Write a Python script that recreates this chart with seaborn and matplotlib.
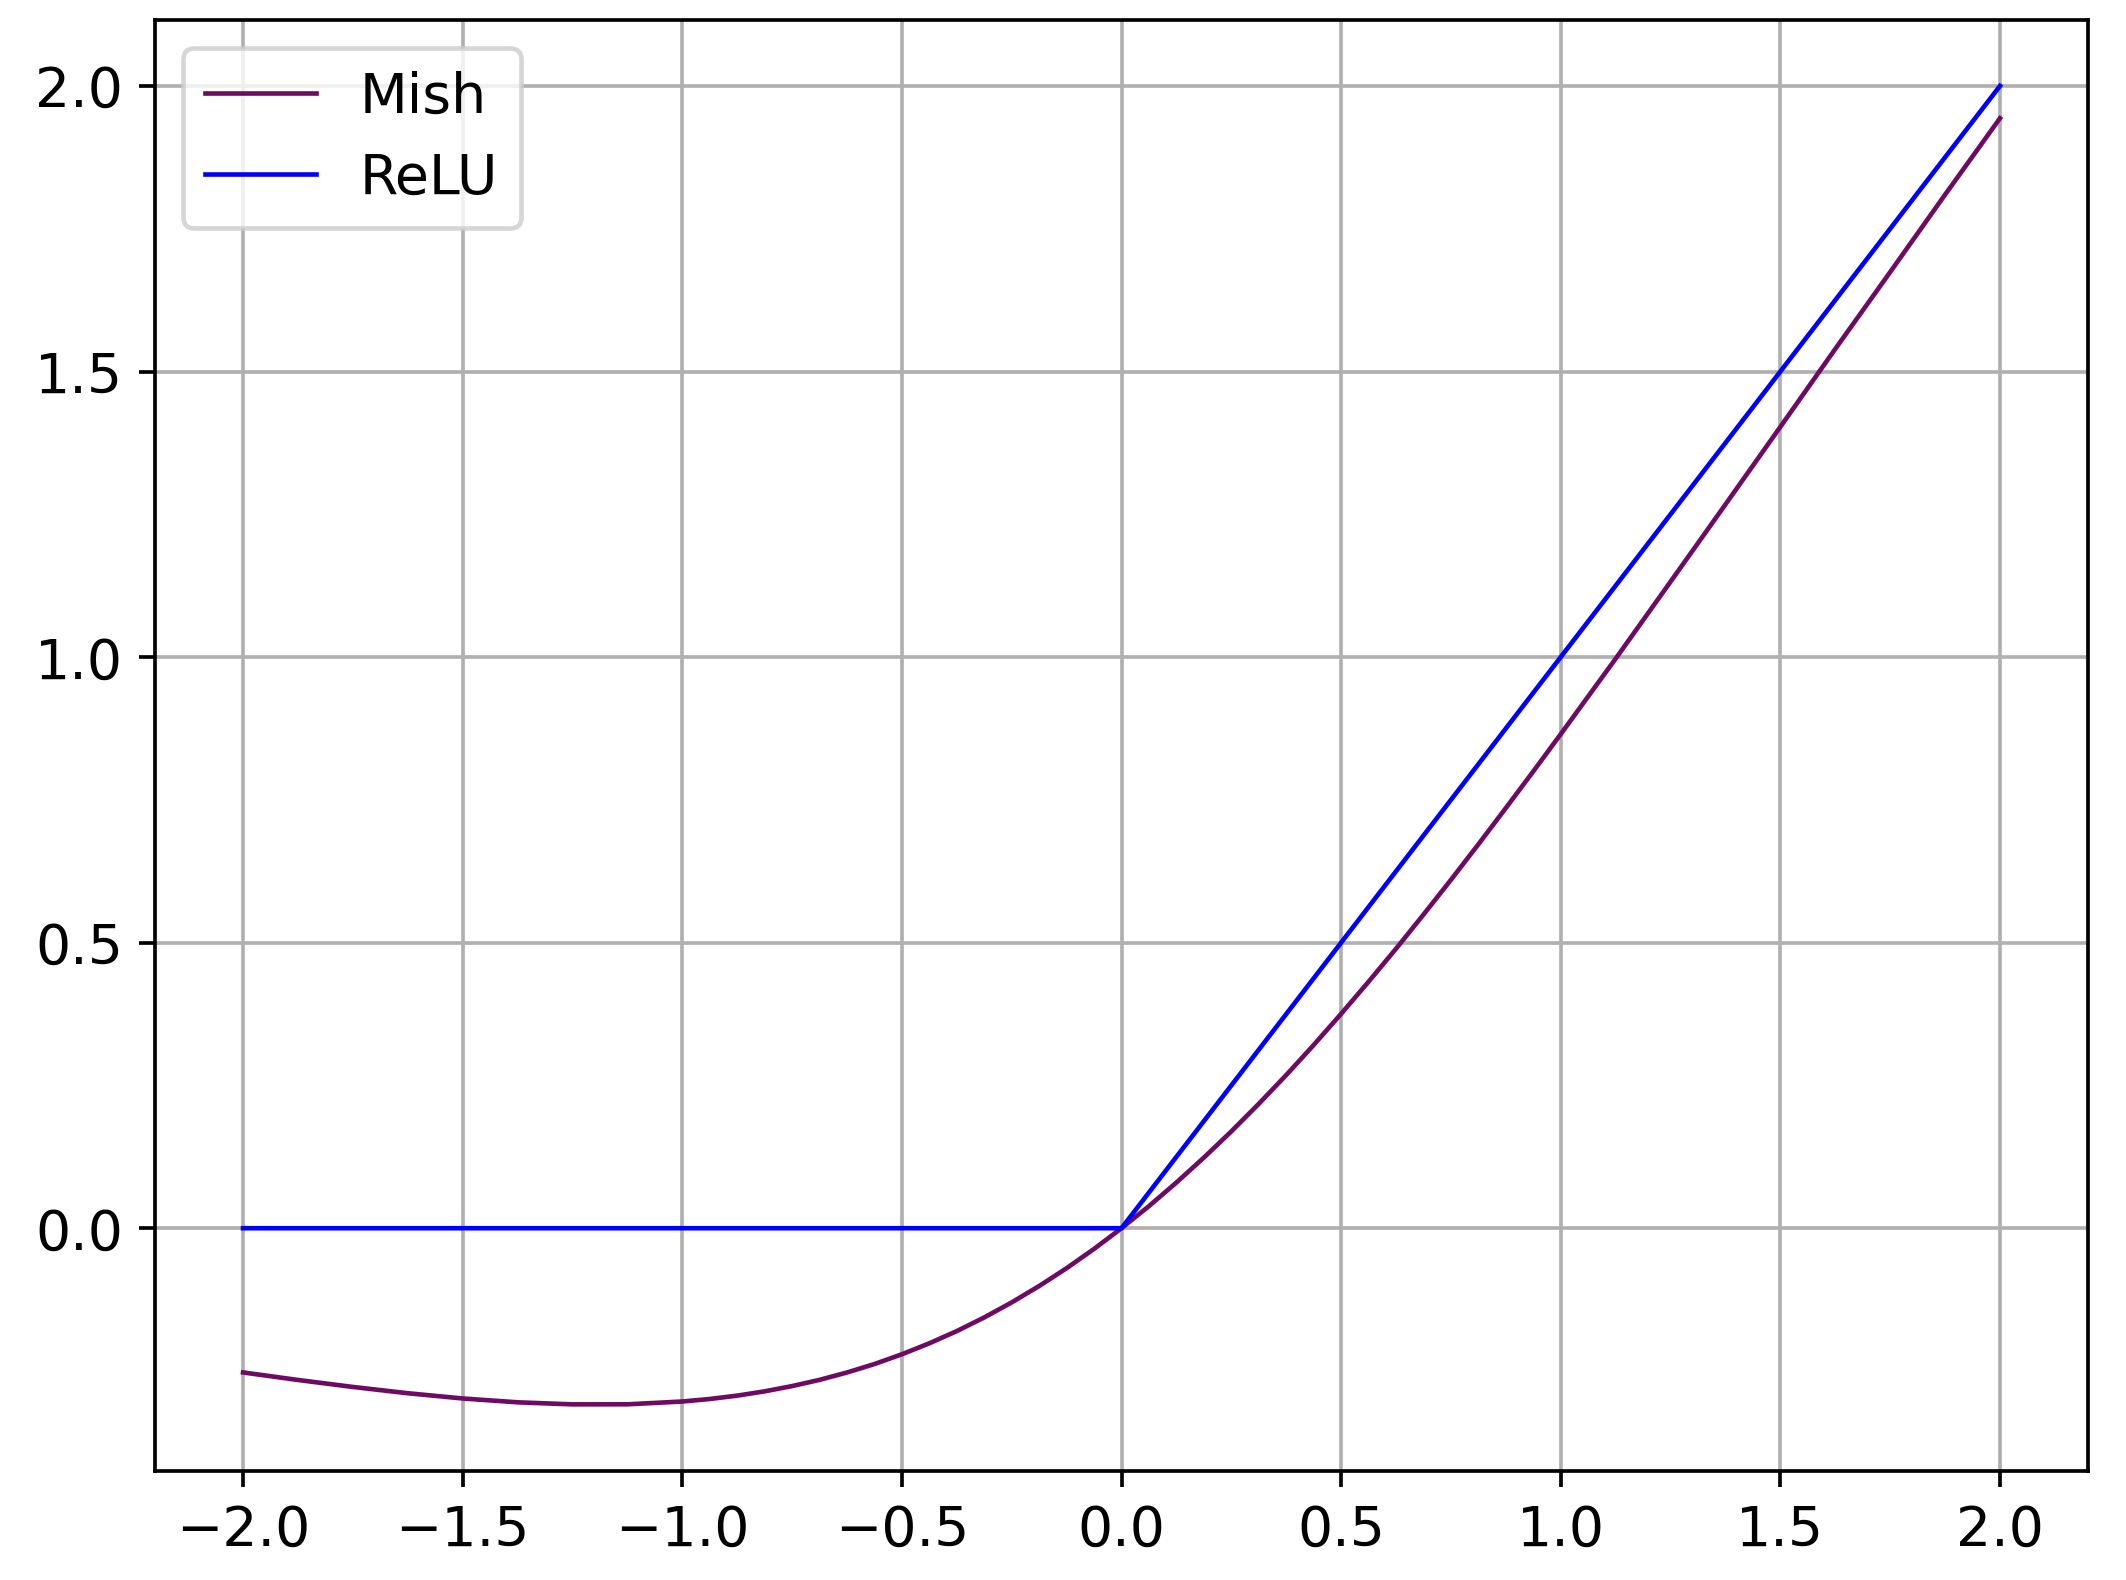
import numpy as np
import pandas as pd
import seaborn as sns
import matplotlib.pyplot as plt

# values
mish_x = [-2.0, -1.875, -1.75, -1.625, -1.5, -1.375, -1.25, -1.125, -1.0,
          -0.9375, -0.875, -0.8125, -0.75, -0.6875, -0.625, -0.5625, -0.5,
          -0.4375, -0.375, -0.3125, -0.25, -0.1875, -0.125, -0.0625, 0.0,
          0.0625, 0.125, 0.1875, 0.25, 0.3125, 0.375, 0.4375, 0.5,
          0.5625, 0.625, 0.6875, 0.75, 0.8125, 0.875, 0.9375, 1.0,
          1.125, 1.25, 1.375, 1.5, 1.625, 1.75, 1.875, 2.0]
mish_y = [-0.2525, -0.2657, -0.2779, -0.2889, -0.2981, -0.3048, -0.3084, -0.3083, -0.3034,
          -0.2990, -0.2931, -0.2856, -0.2764, -0.2655, -0.2526, -0.2378, -0.2207,
          -0.2015, -0.1801, -0.1562, -0.1299, -0.1012, -0.0700, -0.0362, 0.0,
          0.0387, 0.0800, 0.1236, 0.1695, 0.2178, 0.2682, 0.3208, 0.3754,
          0.4316, 0.4894, 0.5491, 0.6100, 0.6722, 0.7357, 0.7999, 0.8651,
          0.9972, 1.1320, 1.2673, 1.4031, 1.5395, 1.6741, 1.8096, 1.9434]
relu_x = [-2.0, 0.0, 2.0]
relu_y = [0.0, 0.0, 2.0]

df = pd.concat([
    pd.DataFrame({"x": mish_x, "y": mish_y, "func": "Mish"}),
    pd.DataFrame({"x": relu_x, "y": relu_y, "func": "ReLU"}),
], ignore_index=True)

plt.rcParams["font.size"] = 12
fig, ax = plt.subplots(figsize=(6.4, 4.757), dpi=332.2)
fig.subplots_adjust(left=0.073, right=0.982, top=0.987, bottom=0.069)

sns.lineplot(data=df, x="x", y="y", hue="func",
             palette={"Mish": "#6e0a64", "ReLU": "blue"},
             linewidth=1.0, sort=False, ax=ax)

ax.set_xticks([-2.0, -1.5, -1.0, -0.5, 0.0, 0.5, 1.0, 1.5, 2.0])
ax.set_yticks([0.0, 0.5, 1.0, 1.5, 2.0])
ax.set_xlim(-2.2, 2.2)
ax.set_ylim(-0.425, 2.115)
ax.set_xlabel("")
ax.set_ylabel("")
ax.grid(True, color="#b0b0b0", linewidth=0.8)
ax.legend(title=None, loc="upper left")

fig.savefig("out.png", dpi=332.2)
